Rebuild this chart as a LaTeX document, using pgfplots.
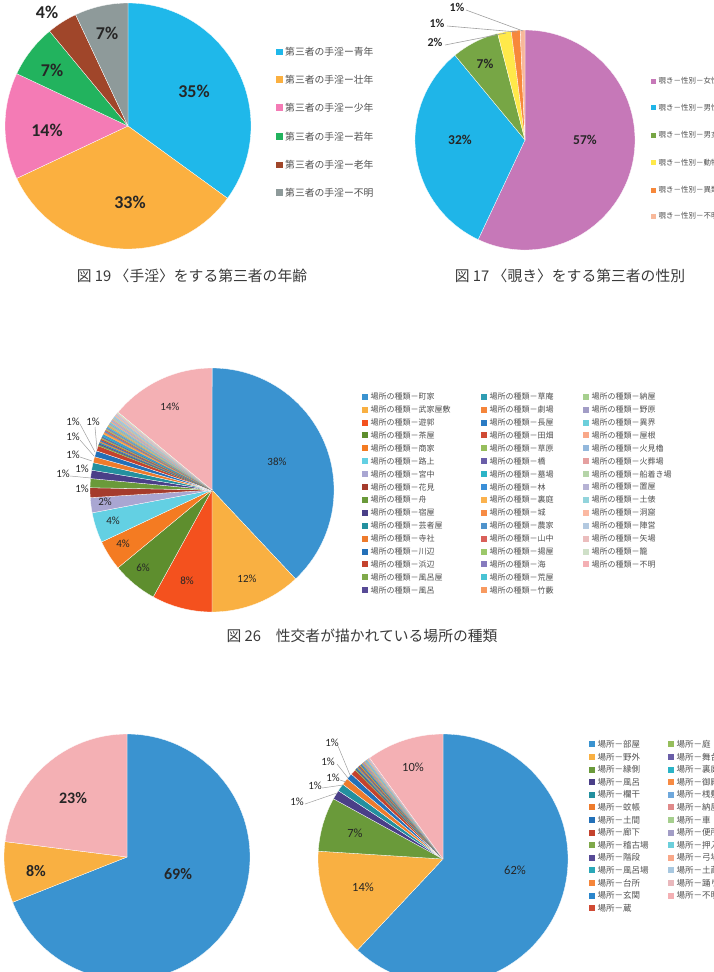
\documentclass[border=0pt]{standalone}
\usepackage{pgfplots}
\pgfplotsset{compat=1.18}
\usepackage{fontspec}
\setmainfont{Carlito}
\newfontfamily\jp{Noto Sans CJK JP}
% fig 19
\definecolor{qa}{HTML}{1FB8EA}\definecolor{qb}{HTML}{FBB040}\definecolor{qc}{HTML}{F47BB5}
\definecolor{qd}{HTML}{22B35E}\definecolor{qe}{HTML}{A0462A}\definecolor{qf}{HTML}{8E9A9A}
% fig 17
\definecolor{ra}{HTML}{C678B8}\definecolor{rb}{HTML}{1FB5E8}\definecolor{rc}{HTML}{77A645}
\definecolor{rd}{HTML}{FFE94A}\definecolor{re}{HTML}{F7883A}\definecolor{rf}{HTML}{F8B89A}
% palette fig 26 / bottom
\definecolor{P01}{HTML}{3A93D0}\definecolor{P02}{HTML}{F9B042}\definecolor{P03}{HTML}{F4511E}
\definecolor{P04}{HTML}{5E8E2E}\definecolor{P05}{HTML}{F47B22}\definecolor{P06}{HTML}{63D0E3}
\definecolor{P07}{HTML}{A9A6D2}\definecolor{P08}{HTML}{A53B2C}\definecolor{P09}{HTML}{6A9A3A}
\definecolor{P10}{HTML}{4A3F88}\definecolor{P11}{HTML}{23909F}\definecolor{P12}{HTML}{EE7B2C}
\definecolor{P13}{HTML}{2370B8}\definecolor{P14}{HTML}{C4422D}\definecolor{P15}{HTML}{7FA94A}
\definecolor{P16}{HTML}{574A96}\definecolor{P17}{HTML}{2E9DB3}\definecolor{P18}{HTML}{F5853A}
\definecolor{P19}{HTML}{2A7BC4}\definecolor{P20}{HTML}{D04A34}\definecolor{P21}{HTML}{96BE5C}
\definecolor{P22}{HTML}{6A5EA8}\definecolor{P23}{HTML}{2BB4C7}\definecolor{P24}{HTML}{3A8FD8}
\definecolor{P25}{HTML}{FBB24E}\definecolor{P26}{HTML}{F78B44}\definecolor{P27}{HTML}{4F93CC}
\definecolor{P28}{HTML}{D9605A}\definecolor{P29}{HTML}{9CC86A}\definecolor{P30}{HTML}{867BBE}
\definecolor{P31}{HTML}{48C3D4}\definecolor{P32}{HTML}{F89A60}\definecolor{P33}{HTML}{A6CF8E}
\definecolor{P34}{HTML}{A29DC6}\definecolor{P35}{HTML}{6CCFDB}\definecolor{P36}{HTML}{F9A889}
\definecolor{P37}{HTML}{93B8DC}\definecolor{P38}{HTML}{E5A0A0}\definecolor{P39}{HTML}{B5D4A8}
\definecolor{P40}{HTML}{B6B2D4}\definecolor{P41}{HTML}{92D4DC}\definecolor{P42}{HTML}{FBB9A2}
\definecolor{P43}{HTML}{B3C9E0}\definecolor{P44}{HTML}{EBBDBD}\definecolor{P45}{HTML}{CFE0C8}
\definecolor{P46}{HTML}{F4B0B4}
\definecolor{B11}{HTML}{2AA8B8}\definecolor{B13}{HTML}{2A86CC}\definecolor{B19}{HTML}{6FA8DC}
\definecolor{B20}{HTML}{E08A8A}\definecolor{B25}{HTML}{A8C8E0}\definecolor{B26}{HTML}{E9B8BC}
\definecolor{lbl}{HTML}{262626}\definecolor{legt}{HTML}{505050}\definecolor{capt}{HTML}{3A3A3A}
\definecolor{lead}{HTML}{A0A0A0}

\def\pieR{100pt}
\gdef\piecum{0}
% #1 share, #2 colour, #3 border style
\newcommand\slicex[3]{%
  \pgfmathsetmacro\sa{90-3.6*\piecum}%
  \pgfmathsetmacro\newcum{\piecum+#1}%
  \pgfmathsetmacro\ea{90-3.6*\newcum}%
  \global\let\piecum\newcum
  \pgfmathsetmacro\sx{cos(\sa)}\pgfmathsetmacro\sy{sin(\sa)}%
  \edef\tmp{\noexpand\addplot[fill=#2, #3] coordinates {(0,0) (\sx,\sy)} arc[start angle=\sa, end angle=\ea, radius=\pieR] -- cycle;}%
  \tmp}
\newcommand\slice[2]{\slicex{#1}{#2}{draw=white, line width=0.3pt}}
\newcommand\sslice[2]{\slicex{#1}{#2}{draw=#2, line width=0.1pt}}
\pgfplotsset{pieax/.style={hide axis, scale only axis, xmin=-1,xmax=1,ymin=-1,ymax=1,
  enlargelimits=false, clip=false, anchor=origin}}
% legend item: x, y(center), size, colour, fontsize, text
\newcommand\leg[6]{%
  \fill[#4] (#1,-#2-#3/2) rectangle ++(#3,#3);
  \node[anchor=west, inner sep=0pt, text=legt, font=\fontsize{#5}{#5}\selectfont\jp] at (#1+#3+2.5,-#2) {#6};}

\begin{document}
\begin{tikzpicture}[x=1pt,y=1pt]
\useasboundingbox (0,0) rectangle (714,-972);
\clip (0,0) rectangle (714,-972);

% ---------- Fig 19
\def\pieR{123pt}\gdef\piecum{0}
\begin{axis}[pieax, width=246pt, height=246pt, at={(128pt,-126pt)}]
\slice{35}{qa}\slice{33}{qb}\slice{14}{qc}\slice{7}{qd}\slice{4}{qe}\slice{7}{qf}
\end{axis}
\begin{scope}[every node/.style={text=lbl, font=\fontsize{18}{18}\selectfont\bfseries}]
\node at (194,-91) {35\%};\node at (130,-202) {33\%};\node at (47,-130) {14\%};
\node at (52,-70) {7\%};\node at (107,-33) {7\%};\node at (47,-12) {4\%};
\end{scope}
\leg{276}{52}{6.5}{qa}{9.8}{第三者の手淫ー青年}
\leg{276}{79.5}{6.5}{qb}{9.8}{第三者の手淫ー壮年}
\leg{276}{107.5}{6.5}{qc}{9.8}{第三者の手淫ー少年}
\leg{276}{136.5}{6.5}{qd}{9.8}{第三者の手淫ー若年}
\leg{276}{165}{6.5}{qe}{9.8}{第三者の手淫ー老年}
\leg{276}{192.5}{6.5}{qf}{9.8}{第三者の手淫ー不明}
\node[text=capt, font=\fontsize{14.8}{14.8}\selectfont\jp] at (192,-276) {図 19 〈手淫〉をする第三者の年齢};

% ---------- Fig 17
\def\pieR{110pt}\gdef\piecum{0}
\begin{axis}[pieax, width=220pt, height=220pt, at={(525pt,-140pt)}]
\slice{57}{ra}\slice{32}{rb}\slice{7}{rc}\slice{2}{rd}\slice{1.3}{re}\slice{0.7}{rf}
\end{axis}
\begin{scope}[every node/.style={text=lbl, font=\fontsize{13.5}{13.5}\selectfont\bfseries}]
\node at (585,-140) {57\%};\node at (460,-140) {32\%};\node at (485,-64) {7\%};
\end{scope}
\draw[lead, line width=0.6pt] (466,-10) -- (523,-31);
\draw[lead, line width=0.6pt] (447,-26) -- (517,-32);
\draw[lead, line width=0.6pt] (445,-45) -- (506,-33);
\begin{scope}[every node/.style={text=lbl, font=\fontsize{12}{12}\selectfont\bfseries}]
\node at (457,-7) {1\%};\node at (437,-23) {1\%};\node at (435,-42) {2\%};
\end{scope}
\leg{651}{81}{5}{ra}{7.5}{覗き－性別－女性}
\leg{651}{107.5}{5}{rb}{7.5}{覗き－性別－男性}
\leg{651}{135}{5}{rc}{7.5}{覗き－性別－男女}
\leg{651}{162.5}{5}{rd}{7.5}{覗き－性別－動物}
\leg{651}{190}{5}{re}{7.5}{覗き－性別－異類}
\leg{651}{216}{5}{rf}{7.5}{覗き－性別－不明}
\node[text=capt, font=\fontsize{14.8}{14.8}\selectfont\jp] at (570,-276) {図 17 〈覗き〉をする第三者の性別};

% ---------- Fig 26
\def\pieR{122pt}\gdef\piecum{0}
\begin{axis}[pieax, width=244pt, height=244pt, at={(212pt,-490pt)}]
\slice{38}{P01}\slice{12}{P02}\slice{8}{P03}\slice{6}{P04}\slice{4}{P05}\slice{4}{P06}\slice{2}{P07}
\slice{1.3}{P08}\slice{1.2}{P09}\slice{1.1}{P10}\slice{1.0}{P11}\slice{0.8}{P12}\slice{0.8}{P13}\slice{0.7}{P14}
\sslice{0.165}{P15}\sslice{0.165}{P16}\sslice{0.165}{P17}\sslice{0.165}{P18}\sslice{0.165}{P19}
\sslice{0.165}{P20}\sslice{0.165}{P21}\sslice{0.165}{P22}\sslice{0.165}{P23}\sslice{0.165}{P24}
\sslice{0.165}{P25}\sslice{0.165}{P26}\sslice{0.165}{P27}\sslice{0.165}{P28}\sslice{0.165}{P29}
\sslice{0.165}{P30}\sslice{0.165}{P31}\sslice{0.165}{P32}\sslice{0.165}{P33}\sslice{0.165}{P34}
\sslice{0.165}{P35}\sslice{0.165}{P36}\sslice{0.165}{P37}\sslice{0.165}{P38}\sslice{0.165}{P39}
\sslice{0.165}{P40}\sslice{0.165}{P41}\sslice{0.165}{P42}\sslice{0.165}{P43}\sslice{0.165}{P44}
\sslice{0.165}{P45}\slice{14}{P46}
\end{axis}
\draw[lead, line width=0.5pt] (80,-424) -- (95,-452);
\draw[lead, line width=0.5pt] (95,-427) -- (97,-449);
\draw[lead, line width=0.5pt] (80,-440) -- (94,-456);
\draw[lead, line width=0.5pt] (80,-457) -- (92,-461);
\draw[lead, line width=0.5pt] (70,-476) -- (91,-478);
\begin{scope}[every node/.style={text=lbl, font=\fontsize{11}{11}\selectfont}]
\node at (277,-462) {38\%};\node at (247,-579) {12\%};\node at (187,-581) {8\%};
\node at (143,-568) {6\%};\node at (123,-544) {4\%};\node at (113,-521) {4\%};
\node at (105,-502) {2\%};\node at (170,-407) {14\%};
\node at (82,-489) {1\%};\node at (63,-474) {1\%};\node at (82,-469) {1\%};
\node at (73,-455) {1\%};\node at (73,-437) {1\%};\node at (73,-422) {1\%};\node at (93,-422) {1\%};
\end{scope}
% legend col 1
\leg{362}{396.7}{6}{P01}{8}{場所の種類－町家}
\leg{362}{409.6}{6}{P02}{8}{場所の種類－武家屋敷}
\leg{362}{422.5}{6}{P03}{8}{場所の種類－遊郭}
\leg{362}{435.4}{6}{P04}{8}{場所の種類－茶屋}
\leg{362}{448.3}{6}{P05}{8}{場所の種類－商家}
\leg{362}{461.2}{6}{P06}{8}{場所の種類－路上}
\leg{362}{474.1}{6}{P07}{8}{場所の種類－宮中}
\leg{362}{487.0}{6}{P08}{8}{場所の種類－花見}
\leg{362}{499.9}{6}{P09}{8}{場所の種類－舟}
\leg{362}{512.8}{6}{P10}{8}{場所の種類－宿屋}
\leg{362}{525.7}{6}{P11}{8}{場所の種類－芸者屋}
\leg{362}{538.6}{6}{P12}{8}{場所の種類－寺社}
\leg{362}{551.5}{6}{P13}{8}{場所の種類－川辺}
\leg{362}{564.4}{6}{P14}{8}{場所の種類－浜辺}
\leg{362}{577.3}{6}{P15}{8}{場所の種類－風呂屋}
\leg{362}{590.2}{6}{P16}{8}{場所の種類－風呂}
% col 2
\leg{481}{396.7}{6}{P17}{8}{場所の種類－草庵}
\leg{481}{409.6}{6}{P18}{8}{場所の種類－劇場}
\leg{481}{422.5}{6}{P19}{8}{場所の種類－長屋}
\leg{481}{435.4}{6}{P20}{8}{場所の種類－田畑}
\leg{481}{448.3}{6}{P21}{8}{場所の種類－草原}
\leg{481}{461.2}{6}{P22}{8}{場所の種類－橋}
\leg{481}{474.1}{6}{P23}{8}{場所の種類－墓場}
\leg{481}{487.0}{6}{P24}{8}{場所の種類－林}
\leg{481}{499.9}{6}{P25}{8}{場所の種類－裏庭}
\leg{481}{512.8}{6}{P26}{8}{場所の種類－城}
\leg{481}{525.7}{6}{P27}{8}{場所の種類－農家}
\leg{481}{538.6}{6}{P28}{8}{場所の種類－山中}
\leg{481}{551.5}{6}{P29}{8}{場所の種類－揚屋}
\leg{481}{564.4}{6}{P30}{8}{場所の種類－海}
\leg{481}{577.3}{6}{P31}{8}{場所の種類－荒屋}
\leg{481}{590.2}{6}{P32}{8}{場所の種類－竹藪}
% col 3
\leg{583}{396.7}{6}{P33}{8}{場所の種類－納屋}
\leg{583}{409.6}{6}{P34}{8}{場所の種類－野原}
\leg{583}{422.5}{6}{P35}{8}{場所の種類－異界}
\leg{583}{435.4}{6}{P36}{8}{場所の種類－屋根}
\leg{583}{448.3}{6}{P37}{8}{場所の種類－火見櫓}
\leg{583}{461.2}{6}{P38}{8}{場所の種類－火葬場}
\leg{583}{474.1}{6}{P39}{8}{場所の種類－船着き場}
\leg{583}{487.0}{6}{P40}{8}{場所の種類－置屋}
\leg{583}{499.9}{6}{P41}{8}{場所の種類－土俵}
\leg{583}{512.8}{6}{P42}{8}{場所の種類－洞窟}
\leg{583}{525.7}{6}{P43}{8}{場所の種類－陣営}
\leg{583}{538.6}{6}{P44}{8}{場所の種類－矢場}
\leg{583}{551.5}{6}{P45}{8}{場所の種類－籠}
\leg{583}{564.4}{6}{P46}{8}{場所の種類－不明}
\node[text=capt, font=\fontsize{14.8}{14.8}\selectfont\jp] at (362,-636) {図 26\quad 性交者が描かれている場所の種類};

% ---------- bottom left
\def\pieR{123pt}\gdef\piecum{0}
\begin{axis}[pieax, width=246pt, height=246pt, at={(127pt,-857pt)}]
\slice{69}{P01}\slice{8}{P02}\slice{23}{P46}
\end{axis}
\begin{scope}[every node/.style={text=lbl, font=\fontsize{16}{16}\selectfont\bfseries}]
\node at (178,-874) {69\%};\node at (36,-871) {8\%};\node at (73,-798) {23\%};
\end{scope}

% ---------- bottom right
\def\pieR{125pt}\gdef\piecum{0}
\begin{axis}[pieax, width=250pt, height=250pt, at={(443pt,-859pt)}]
\slice{62}{P01}\slice{14}{P02}\slice{7}{P09}\slice{1.2}{P10}\slice{1.0}{P11}\slice{0.9}{P12}
\slice{0.8}{P13}\slice{0.7}{P14}
\sslice{0.1333}{P15}\sslice{0.1333}{P16}\sslice{0.1333}{B11}\sslice{0.1333}{P18}\sslice{0.1333}{B13}
\sslice{0.1333}{P20}\sslice{0.1333}{P21}\sslice{0.1333}{P22}\sslice{0.1333}{P23}\sslice{0.1333}{P26}
\sslice{0.1333}{B19}\sslice{0.1333}{B20}\sslice{0.1333}{P33}\sslice{0.1333}{P34}\sslice{0.1333}{P35}
\sslice{0.1333}{P36}\sslice{0.1333}{B25}\sslice{0.1333}{B26}\slice{10}{P46}
\end{axis}
\draw[lead, line width=0.5pt] (338,-746) -- (350,-775);
\draw[lead, line width=0.5pt] (337,-764) -- (348,-778);
\draw[lead, line width=0.5pt] (340,-780) -- (346,-782);
\draw[lead, line width=0.5pt] (322,-788) -- (343,-785);
\draw[lead, line width=0.5pt] (305,-804) -- (337,-793);
\begin{scope}[every node/.style={text=lbl, font=\fontsize{12.5}{12.5}\selectfont}]
\node at (515,-870) {62\%};\node at (363,-887) {14\%};\node at (355,-833) {7\%};\node at (413,-767) {10\%};
\end{scope}
\begin{scope}[every node/.style={text=lbl, font=\fontsize{11}{11}\selectfont}]
\node at (332,-743) {1\%};\node at (328,-762) {1\%};\node at (333,-778) {1\%};
\node at (315,-786) {1\%};\node at (297,-802) {1\%};
\end{scope}
\leg{589}{744.3}{6}{P01}{8.5}{場所－部屋}
\leg{589}{756.9}{6}{P02}{8.5}{場所－野外}
\leg{589}{769.5}{6}{P09}{8.5}{場所－縁側}
\leg{589}{782.1}{6}{P10}{8.5}{場所－風呂}
\leg{589}{794.7}{6}{P11}{8.5}{場所－欄干}
\leg{589}{807.3}{6}{P12}{8.5}{場所－蚊帳}
\leg{589}{819.9}{6}{P13}{8.5}{場所－土間}
\leg{589}{832.5}{6}{P14}{8.5}{場所－廊下}
\leg{589}{845.1}{6}{P15}{8.5}{場所－稽古場}
\leg{589}{857.7}{6}{P16}{8.5}{場所－階段}
\leg{589}{870.3}{6}{B11}{8.5}{場所－風呂場}
\leg{589}{882.9}{6}{P18}{8.5}{場所－台所}
\leg{589}{895.5}{6}{B13}{8.5}{場所－玄関}
\leg{589}{908.1}{6}{P20}{8.5}{場所－蔵}
\leg{668}{744.3}{6}{P21}{8.5}{場所－庭}
\leg{668}{756.9}{6}{P22}{8.5}{場所－舞台}
\leg{668}{769.5}{6}{P23}{8.5}{場所－裏庭}
\leg{668}{782.1}{6}{P26}{8.5}{場所－御殿}
\leg{668}{794.7}{6}{B19}{8.5}{場所－桟敷}
\leg{668}{807.3}{6}{B20}{8.5}{場所－納屋}
\leg{668}{819.9}{6}{P33}{8.5}{場所－車}
\leg{668}{832.5}{6}{P34}{8.5}{場所－便所}
\leg{668}{845.1}{6}{P35}{8.5}{場所－押入}
\leg{668}{857.7}{6}{P36}{8.5}{場所－弓場}
\leg{668}{870.3}{6}{B25}{8.5}{場所－土蔵}
\leg{668}{882.9}{6}{B26}{8.5}{場所－踊り場}
\leg{668}{895.5}{6}{P46}{8.5}{場所－不明}
\end{tikzpicture}
\end{document}
